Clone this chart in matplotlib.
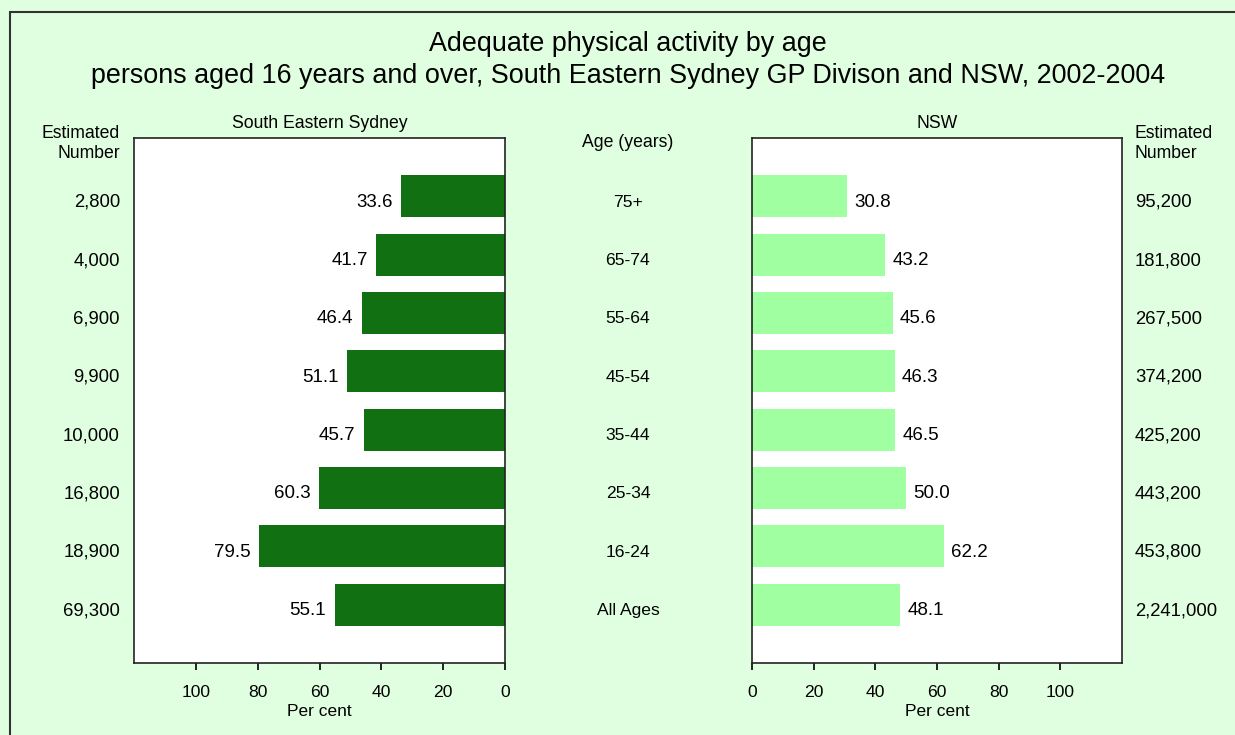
import matplotlib
matplotlib.use("Agg")
import matplotlib.pyplot as plt
from matplotlib.transforms import blended_transform_factory
from matplotlib.patches import Rectangle

plt.rcParams['font.family'] = ['Liberation Sans', 'DejaVu Sans']

ages = ["75+", "65-74", "55-64", "45-54", "35-44", "25-34", "16-24", "All Ages"]
ses_pct = [33.6, 41.7, 46.4, 51.1, 45.7, 60.3, 79.5, 55.1]
nsw_pct = [30.8, 43.2, 45.6, 46.3, 46.5, 50.0, 62.2, 48.1]
ses_num = ["2,800", "4,000", "6,900", "9,900", "10,000", "16,800", "18,900", "69,300"]
nsw_num = ["95,200", "181,800", "267,500", "374,200", "425,200", "443,200", "453,800", "2,241,000"]
ticks = [0, 20, 40, 60, 80, 100]

bg = "#E0FFE0"
dark = "#117011"
light = "#A0FFA0"

W, H = 1235, 735
fig = plt.figure(figsize=(W / 100, H / 100), dpi=100, facecolor=bg)
fig.patches.append(Rectangle((10 / W, -0.1), 1.2, 1.1 - 12 / H, transform=fig.transFigure,
                             fill=False, edgecolor="#333333", linewidth=1.5, zorder=0))

top, bot = 138, 663
axL = fig.add_axes([134 / W, 1 - bot / H, 371 / W, (bot - top) / H])
axR = fig.add_axes([752 / W, 1 - bot / H, 370 / W, (bot - top) / H])

FS = 13.3
y = list(range(len(ages)))
for ax, vals, col in [(axL, ses_pct, dark), (axR, nsw_pct, light)]:
    ax.barh(y, vals, height=0.72, color=col, edgecolor="none")
    ax.set_ylim(len(ages), -1)
    ax.set_yticks([])
    ax.set_xticks(ticks)
    ax.set_xticklabels([str(t) for t in ticks], fontsize=12.6)
    ax.tick_params(axis="x", direction="out", length=5, width=1.2, pad=11)
    for s in ax.spines.values():
        s.set_linewidth(1.2)
        s.set_color("#222222")
    ax.set_facecolor("white")
    ax.set_xlabel("Per cent", fontsize=12.5, labelpad=3)

axL.set_xlim(120, 0)
axR.set_xlim(0, 120)

DY = -7.5  # baseline offset (points) below bar centre
for i, v in enumerate(ses_pct):
    axL.annotate(f"{v:.1f}", (v, i), xytext=(-6, DY), textcoords="offset points",
                 ha="right", va="baseline", fontsize=13.5)
for i, v in enumerate(nsw_pct):
    axR.annotate(f"{v:.1f}", (v, i), xytext=(5, DY), textcoords="offset points",
                 ha="left", va="baseline", fontsize=13.5)

trL = blended_transform_factory(fig.transFigure, axL.transData)
for i in range(len(ages)):
    axL.annotate(ses_num[i], (120 / W, i), xycoords=trL, xytext=(0, DY), textcoords="offset points",
                 ha="right", va="baseline", fontsize=FS, annotation_clip=False)
    axL.annotate(ages[i], (628 / W, i), xycoords=trL, xytext=(0, DY), textcoords="offset points",
                 ha="center", va="baseline", fontsize=12.6, annotation_clip=False)
    axL.annotate(nsw_num[i], (1135 / W, i), xycoords=trL, xytext=(0, DY), textcoords="offset points",
                 ha="left", va="baseline", fontsize=FS, annotation_clip=False)

for xx, ha in [(120, "right"), (1135, "left")]:
    fig.text(xx / W, 1 - 138 / H, "Estimated", ha=ha, va="baseline", fontsize=12.7)
    fig.text(xx / W, 1 - 158 / H, "Number", ha=ha, va="baseline", fontsize=12.7)
fig.text(628 / W, 1 - 147 / H, "Age (years)", ha="center", va="baseline", fontsize=12.7)
fig.text(320 / W, 1 - 128 / H, "South Eastern Sydney", ha="center", va="baseline", fontsize=12.7)
fig.text(937 / W, 1 - 128 / H, "NSW", ha="center", va="baseline", fontsize=12.7)

fig.text(628 / W, 1 - 44 / H, "Adequate physical activity by age", ha="center", va="center", fontsize=19.4)
fig.text(628 / W, 1 - 76 / H,
         "persons aged 16 years and over, South Eastern Sydney GP Divison and NSW, 2002-2004",
         ha="center", va="center", fontsize=19.4)

fig.savefig("out.png", dpi=100, facecolor=bg)
